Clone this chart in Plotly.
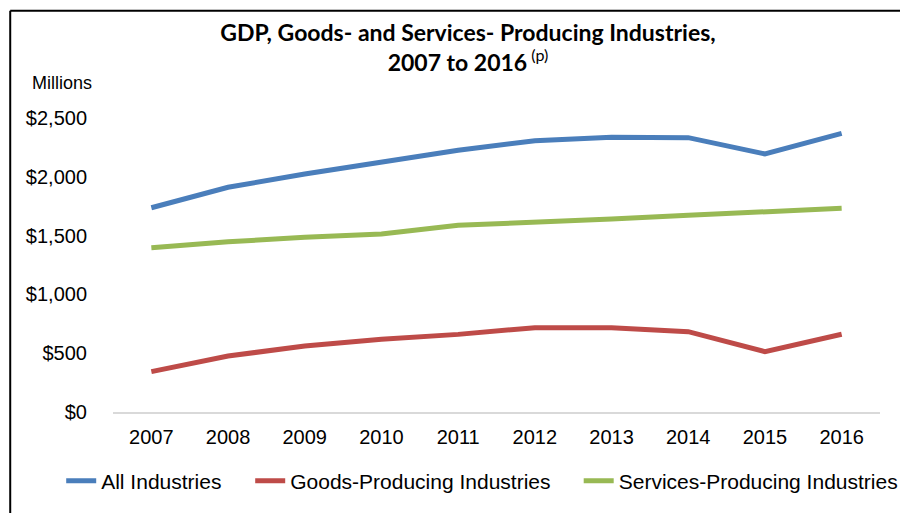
import plotly.graph_objects as go

years = ["2007", "2008", "2009", "2010", "2011", "2012", "2013", "2014", "2015", "2016"]
all_industries = [1737, 1911, 2024, 2120, 2225, 2307, 2336, 2333, 2194, 2370]
goods_producing = [343, 476, 561, 618, 660, 717, 717, 683, 513, 661]
services_producing = [1397, 1448, 1485, 1514, 1588, 1610, 1641, 1673, 1698, 1732]
y_ticks = [0, 500, 1000, 1500, 2000, 2500]
y_tick_labels = ["$0", "$500", "$1,000", "$1,500", "$2,000", "$2,500"]

# name, values, colour, legend id, legend x (container)
series = [
    ("All Industries", all_industries, "#4A7EBB", "legend", 0.068),
    ("Goods-Producing Industries", goods_producing, "#BE4B48", "legend2", 0.278),
    ("Services-Producing Industries", services_producing, "#98B954", "legend3", 0.643),
]

fig = go.Figure()
legends = {}
for name, values, color, legend_id, legend_x in series:
    fig.add_trace(
        go.Scatter(
            x=years,
            y=values,
            name=name,
            mode="lines",
            line={"width": 5, "color": color},
            legend=legend_id,
        )
    )
    legends[legend_id] = {
        "orientation": "h", "xref": "container", "yref": "container",
        "x": legend_x, "xanchor": "left", "y": 0.0624, "yanchor": "middle",
        "font": {"size": 21}, "bgcolor": "rgba(0,0,0,0)",
    }

fig.update_layout(
    width=900, height=513,
    margin={"l": 113, "r": 20, "t": 118, "b": 101},
    paper_bgcolor="white", plot_bgcolor="white",
    font={"family": "Arial, Liberation Sans, sans-serif", "size": 20, "color": "black"},
    title={
        "text": "<b>GDP, Goods- and Services- Producing Industries,<br>2007 to 2016</b><sup> (p)</sup>",
        "x": 0.52, "xanchor": "center", "xref": "container",
        "y": 0.92, "yanchor": "top", "yref": "container",
        "font": {"family": "Lato, Open Sans, sans-serif", "size": 23, "color": "black"},
    },
    xaxis={
        "type": "category", "range": [-0.5, 9.5],
        "showgrid": False, "showline": True, "linecolor": "#D9D9D9", "linewidth": 2,
        "ticks": "", "tickfont": {"size": 20}, "ticklabelstandoff": 6,
    },
    yaxis={
        "range": [0, 2500], "tickvals": y_ticks, "ticktext": y_tick_labels,
        "showgrid": False, "zeroline": False, "showline": False, "ticks": "",
        "tickfont": {"size": 20}, "ticklabelstandoff": 25,
    },
    showlegend=True,
    **legends,
)

fig.add_annotation(
    text="Millions", xref="paper", yref="paper", x=-0.108, y=1.119,
    xanchor="left", yanchor="middle", showarrow=False,
    font={"family": "Arial, Liberation Sans, sans-serif", "size": 18},
)

# frame around the chart (left and top edges are visible in the picture)
fig.add_shape(type="line", xref="paper", yref="paper", x0=-0.134, x1=-0.134, y0=-0.4, y1=1.365,
              line={"color": "black", "width": 2})
fig.add_shape(type="line", xref="paper", yref="paper", x0=-0.134, x1=1.03, y0=1.365, y1=1.365,
              line={"color": "black", "width": 2})

# drop the browser's default body margin so the figure sits at the window's corner
fig.write_html("out.html", config={"displayModeBar": False},
               post_script="document.body.style.margin='0';")
